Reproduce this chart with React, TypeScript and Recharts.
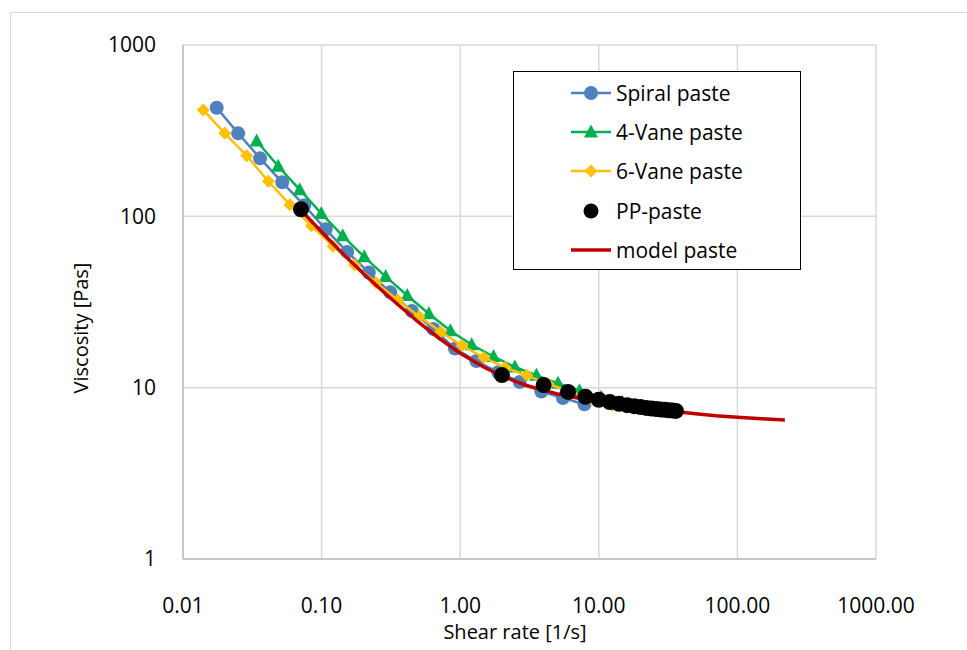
import React from 'react';
import { CartesianGrid, Scatter, ScatterChart, XAxis, YAxis } from 'recharts';

const spiralRate = [0.0175, 0.025, 0.036, 0.052, 0.075, 0.107, 0.153, 0.219, 0.313, 0.448, 0.641, 0.917, 1.31, 1.88, 2.69, 3.85, 5.51, 7.88];
const spiralVisc = [430, 305, 218, 158, 116, 84, 62, 47, 36, 28, 22, 16.9, 14.3, 12.3, 10.8, 9.5, 8.7, 8.0];

const vane4Rate = [0.034, 0.0486, 0.0695, 0.0994, 0.142, 0.203, 0.29, 0.415, 0.594, 0.85, 1.21, 1.74, 2.48, 3.55, 5.08, 7.26, 10.4, 14.8, 21.2, 30.3];
const vane4Visc = [275, 196, 143, 104, 77, 58, 44.5, 34.5, 27, 21.5, 17.8, 15.2, 13.2, 11.8, 10.6, 9.6, 8.8, 8.2, 7.7, 7.35];

const vane6Rate = [0.014, 0.02, 0.0288, 0.0413, 0.059, 0.0845, 0.121, 0.173, 0.247, 0.354, 0.506, 0.723, 1.03, 1.48, 2.11, 3.02, 4.32, 6.18, 8.83, 12.6];
const vane6Visc = [418, 305, 226, 160, 117, 88, 67, 52, 41, 32.5, 26, 21.2, 17.6, 15.0, 13.1, 11.8, 10.5, 9.5, 8.6, 7.9];

const ppRate = [0.071, 2, 4, 6, 8, 10, 12, 14, 16, 18, 20, 22, 24, 26, 28, 30, 32, 34, 36];
const ppVisc = [110, 11.85, 10.35, 9.45, 8.85, 8.5, 8.25, 8.05, 7.9, 7.8, 7.7, 7.62, 7.56, 7.5, 7.46, 7.42, 7.38, 7.35, 7.32];

const modelRate = [0.07, 0.1, 0.15, 0.2, 0.3, 0.5, 0.7, 1, 1.5, 2, 3, 5, 7, 10, 15, 20, 30, 50, 70, 100, 150, 220];
const modelVisc = [110, 81, 58, 46.4, 34.4, 24.1, 19.5, 15.9, 13.1, 11.7, 10.3, 9.2, 8.7, 8.3, 7.9, 7.65, 7.35, 7.05, 6.85, 6.71, 6.58, 6.47];

const xTicks = [0.01, 0.1, 1, 10, 100, 1000];
const yTicks = [1, 10, 100, 1000];

const zip = (xs: number[], ys: number[]) => xs.map((x, i) => ({ x, y: ys[i] }));

const spiralData = zip(spiralRate, spiralVisc);
const vane4Data = zip(vane4Rate, vane4Visc);
const vane6Data = zip(vane6Rate, vane6Visc);
const ppData = zip(ppRate, ppVisc);
const modelData = zip(modelRate, modelVisc);

const BLUE = '#4F81BD';
const GREEN = '#00B050';
const YELLOW = '#FFC000';
const RED = '#C00000';
const FONT = '"Open Sans", sans-serif';

const Circle = (color: string, r: number) => (props: any) =>
    <circle cx={props.cx} cy={props.cy} r={r} fill={color} />;

const Triangle = (props: any) => {
    const { cx, cy } = props;
    return <polygon points={`${cx},${cy - 7.5} ${cx + 7},${cy + 5.5} ${cx - 7},${cy + 5.5}`} fill={GREEN} />;
};

const Diamond = (props: any) => {
    const { cx, cy } = props;
    return <polygon points={`${cx},${cy - 6.5} ${cx + 6.5},${cy} ${cx},${cy + 6.5} ${cx - 6.5},${cy}`} fill={YELLOW} />;
};

const NoDot = () => <g />;

const legendItems = [
    { name: 'Spiral paste', color: BLUE, line: true, mark: 'circle' },
    { name: '4-Vane paste', color: GREEN, line: true, mark: 'triangle' },
    { name: '6-Vane paste', color: YELLOW, line: true, mark: 'diamond' },
    { name: 'PP-paste', color: '#000', line: false, mark: 'dot' },
    { name: 'model paste', color: RED, line: true, mark: 'none' },
];

const LegendBox = () => (
    <div
        style={{
            position: 'absolute',
            left: 513,
            top: 71,
            width: 288,
            height: 199,
            border: '1.5px solid #000',
            background: '#fff',
            boxSizing: 'border-box',
            paddingTop: 1,
            fontFamily: FONT,
        }}
    >
        {legendItems.map((item) => (
            <div key={item.name} style={{ height: 39.4, display: 'flex', alignItems: 'center' }}>
                <svg width={44} height={20} style={{ marginLeft: 55 }}>
                    {item.line && (
                        <line x1={2} x2={42} y1={10} y2={10} stroke={item.color} strokeWidth={item.mark === 'none' ? 3.5 : 2.5} />
                    )}
                    {item.mark === 'circle' && <circle cx={22} cy={10} r={7} fill={item.color} />}
                    {item.mark === 'triangle' && <polygon points="22,2.5 29,15.5 15,15.5" fill={item.color} />}
                    {item.mark === 'diamond' && <polygon points="22,3.5 28.5,10 22,16.5 15.5,10" fill={item.color} />}
                    {item.mark === 'dot' && <circle cx={22} cy={10} r={7.5} fill={item.color} />}
                </svg>
                <span style={{ fontSize: 21, color: '#000', marginLeft: 3, lineHeight: '24px' }}>{item.name}</span>
            </div>
        ))}
    </div>
);

export default function App() {
    return (
        <div style={{ position: 'fixed', left: 0, top: 0, width: 967, height: 650, overflow: 'hidden', background: '#fff' }}>
            <div
                style={{
                    position: 'absolute',
                    left: 10,
                    top: 12,
                    width: 1000,
                    height: 700,
                    border: '1px solid #d9d9d9',
                }}
            />
            <div style={{ position: 'absolute', left: 0, top: 0 }}>
                <ScatterChart width={967} height={650} margin={{ top: 45, right: 91, bottom: 11, left: 83 }}>
                    <CartesianGrid stroke="#d9d9d9" strokeWidth={1.5} />
                    <XAxis
                        dataKey="x"
                        type="number"
                        scale="log"
                        domain={[0.01, 1000]}
                        ticks={xTicks}
                        allowDataOverflow
                        tickFormatter={(v: number) => v.toFixed(2)}
                        tickLine={false}
                        tickMargin={33}
                        height={80}
                        stroke="#bfbfbf"
                        strokeWidth={1.5}
                        tick={{ fill: '#000', fontSize: 21, fontFamily: FONT }}
                        label={{
                            content: () => (
                                <text x={515} y={639} textAnchor="middle" fill="#000" fontSize={20} fontFamily={FONT}>
                                    Shear rate [1/s]
                                </text>
                            ),
                        }}
                    />
                    <YAxis
                        dataKey="y"
                        type="number"
                        scale="log"
                        domain={[1, 1000]}
                        ticks={yTicks}
                        allowDataOverflow
                        tickLine={false}
                        tickMargin={21}
                        width={100}
                        stroke="#bfbfbf"
                        strokeWidth={1.5}
                        tick={{ fill: '#000', fontSize: 21, fontFamily: FONT }}
                        label={{
                            content: () => (
                                <text
                                    x={88}
                                    y={328}
                                    transform="rotate(-90, 88, 328)"
                                    textAnchor="middle"
                                    fill="#000"
                                    fontSize={20}
                                    fontFamily={FONT}
                                >
                                    Viscosity [Pas]
                                </text>
                            ),
                        }}
                    />
                    <Scatter name="Spiral paste" data={spiralData} line={{ stroke: BLUE, strokeWidth: 2.5 }} shape={Circle(BLUE, 7)} isAnimationActive={false} />
                    <Scatter name="4-Vane paste" data={vane4Data} line={{ stroke: GREEN, strokeWidth: 2.5 }} shape={Triangle} isAnimationActive={false} />
                    <Scatter name="6-Vane paste" data={vane6Data} line={{ stroke: YELLOW, strokeWidth: 2.5 }} shape={Diamond} isAnimationActive={false} />
                    <Scatter name="model paste" data={modelData} line={{ stroke: RED, strokeWidth: 3.5 }} shape={NoDot} isAnimationActive={false} />
                    <Scatter name="PP-paste" data={ppData} shape={Circle('#000', 8)} isAnimationActive={false} />
                </ScatterChart>
            </div>
            <LegendBox />
        </div>
    );
}
